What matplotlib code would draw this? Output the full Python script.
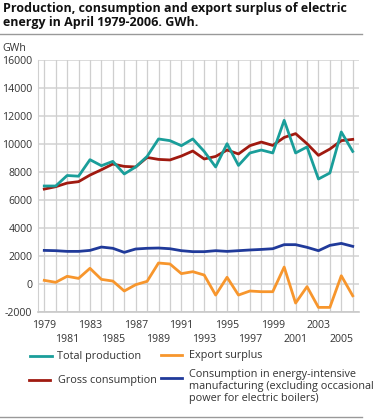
import matplotlib
matplotlib.use("Agg")
import matplotlib.pyplot as plt
from matplotlib.lines import Line2D

years = list(range(1979, 2007))
total_production = [7000, 7000, 7750, 7700, 8880, 8450, 8760, 7860, 8360, 9110,
                    10360, 10240, 9880, 10360, 9470, 8360, 10020, 8470, 9360, 9570,
                    9360, 11690, 9360, 9790, 7500, 7930, 10860, 9470]
gross_consumption = [6780, 6950, 7210, 7310, 7780, 8160, 8570, 8400, 8360, 9040,
                     8900, 8860, 9140, 9500, 8930, 9110, 9570, 9290, 9880, 10140,
                     9900, 10470, 10740, 10020, 9190, 9640, 10240, 10330]
export_surplus = [260, 120, 550, 400, 1120, 330, 210, -500, -50, 190,
                  1500, 1430, 740, 880, 640, -790, 480, -790, -500, -550,
                  -550, 1210, -1360, -190, -1670, -1670, 590, -840]
energy_intensive = [2400, 2380, 2330, 2330, 2400, 2640, 2550, 2260, 2500, 2550,
                    2570, 2520, 2380, 2310, 2310, 2380, 2330, 2380, 2430, 2470,
                    2520, 2810, 2810, 2620, 2380, 2760, 2900, 2690]
y_ticks = [-2000, 0, 2000, 4000, 6000, 8000, 10000, 12000, 14000, 16000]
x_ticks_row1 = [1979, 1983, 1987, 1991, 1995, 1999, 2003]
x_ticks_row2 = [1981, 1985, 1989, 1993, 1997, 2001, 2005]

title = "Production, consumption and export surplus of electric\nenergy in April 1979-2006. GWh."
legend_labels = ["Total production", "Export surplus", "Gross consumption",
                 "Consumption in energy-intensive\nmanufacturing (excluding occasional\npower for electric boilers)"]

c_teal = "#1a9e9a"
c_red = "#a01a10"
c_blue = "#203a9a"
c_orange = "#f7962d"

plt.rcParams['font.family'] = ['Open Sans', 'DejaVu Sans']

W, H = 379, 419
fig = plt.figure(figsize=(W / 100, H / 100), dpi=100)

def fx(x):
    return x / W

def fy(y):
    return 1 - y / H

# axes box in pixels: left 38, right 359, top 60, bottom 312
ax = fig.add_axes([fx(38), fy(312), fx(359) - fx(38), fy(60) - fy(312)])
ax.set_xlim(1978.45, 2006.55)
ax.set_ylim(-2000, 16000)

# grid
for yv in y_ticks:
    ax.axhline(yv, color="#dcdcdc", lw=1.4, zorder=0)
for yr in years:
    ax.axvline(yr, color="#cfcfcf", lw=0.9, zorder=0)

lw = 2.0
ax.plot(years, energy_intensive, color=c_blue, lw=lw, zorder=3)
ax.plot(years, export_surplus, color=c_orange, lw=lw, zorder=3)
ax.plot(years, gross_consumption, color=c_red, lw=lw, zorder=3)
ax.plot(years, total_production, color=c_teal, lw=lw, zorder=4)

for s in ["top", "right"]:
    ax.spines[s].set_visible(False)
ax.spines["left"].set_color("#d0d0d0")
ax.spines["bottom"].set_color("#c8c8c8")
ax.spines["bottom"].set_linewidth(1.2)

ts = 7.6
ax.set_yticks(y_ticks)
ax.set_yticklabels([str(v) for v in y_ticks])
ax.tick_params(axis="y", length=0, pad=4, labelsize=ts, labelcolor="#333333")

ax.set_xticks(x_ticks_row1)
ax.set_xticklabels([str(v) for v in x_ticks_row1])
ax.set_xticks(x_ticks_row2, minor=True)
ax.set_xticklabels([str(v) for v in x_ticks_row2], minor=True)
ax.tick_params(axis="x", which="major", length=0, pad=6, labelsize=ts, labelcolor="#333333")
ax.tick_params(axis="x", which="minor", length=0, pad=16, labelsize=ts, labelcolor="#333333")

# title
fig.text(fx(3), fy(2), title, ha="left", va="top", fontsize=9.0, fontweight="bold",
         color="#111111", linespacing=1.12)
fig.add_artist(Line2D([fx(0), fx(362)], [fy(34), fy(34)], color="#999999", lw=1.0))
fig.text(fx(2), fy(43), "GWh", ha="left", va="top", fontsize=ts, color="#333333")

# legend
ls = 7.8
def leg(x0, x1, y, color, label, tx):
    fig.add_artist(Line2D([fx(x0), fx(x1)], [fy(y), fy(y)], color=color, lw=2.0))
    fig.text(fx(tx), fy(y), label, ha="left", va="center", fontsize=ls,
             color="#333333", linespacing=1.15)

leg(30, 52, 356, c_teal, legend_labels[0], 57)
leg(161, 182, 355, c_orange, legend_labels[1], 189)
leg(29, 50, 380, c_red, legend_labels[2], 58)
fig.add_artist(Line2D([fx(161), fx(182)], [fy(378), fy(378)], color=c_blue, lw=2.0))
fig.text(fx(189), fy(369), legend_labels[3], ha="left", va="top", fontsize=ls,
         color="#333333", linespacing=1.15)

fig.add_artist(Line2D([fx(0), fx(362)], [fy(417), fy(417)], color="#999999", lw=1.0))

fig.savefig("out.png", dpi=100)
